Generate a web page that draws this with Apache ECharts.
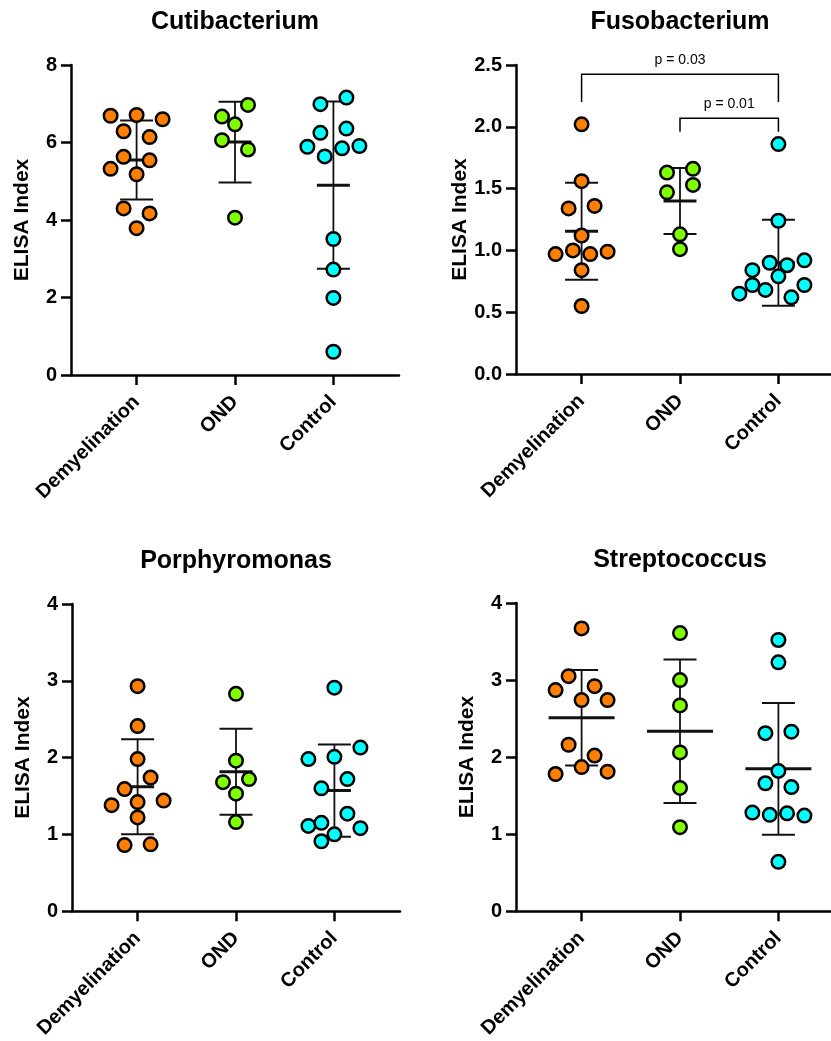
<!DOCTYPE html>
<html><head><meta charset="utf-8">
<script src="https://cdn.jsdelivr.net/npm/echarts@6/dist/echarts.min.js"></script>
<style>html,body{margin:0;padding:0;background:#fff}#c{width:831px;height:1041px}</style>
</head><body><div id="c"></div>
<script>
// ---------- data ----------
const categories = ['Demyelination', 'OND', 'Control'];
const panelTitles = ['Cutibacterium', 'Fusobacterium', 'Porphyromonas', 'Streptococcus'];
const yMaxes = [8, 2.5, 4, 4];
const yIntervals = [2, 0.5, 1, 1];
const yDecimals = [0, 1, 0, 0];

const cutiDemyelination = [6.69, 6.71, 6.60, 6.29, 6.14, 5.63, 5.54, 5.32, 5.18, 4.30, 4.17, 3.79];
const cutiOND = [6.67, 6.97, 6.47, 6.06, 5.82, 4.06];
const cutiControl = [6.99, 7.16, 6.25, 6.36, 5.89, 5.64, 5.85, 5.91, 3.51, 2.72, 1.99, 0.60];
const cutiMean = [5.55, 6.01, 4.90];
const cutiSD = [1.02, 1.04, 2.16];

const fusoDemyelination = [2.02, 1.56, 1.34, 1.36, 1.12, 0.97, 1.00, 0.97, 0.99, 0.84, 0.55];
const fusoOND = [1.63, 1.66, 1.47, 1.53, 1.13, 1.01];
const fusoControl = [1.86, 1.24, 0.84, 0.90, 0.88, 0.92, 0.72, 0.79, 0.72, 0.65, 0.68, 0.62];
const fusoMean = [1.155, 1.40, 0.90];
const fusoSD = [0.393, 0.267, 0.347];

const porphDemyelination = [2.93, 2.41, 1.98, 1.59, 1.74, 1.38, 1.42, 1.44, 1.22, 0.86, 0.87];
const porphOND = [2.83, 1.96, 1.68, 1.72, 1.53, 1.16];
const porphControl = [2.91, 1.98, 2.01, 2.13, 1.60, 1.72, 1.11, 1.15, 1.27, 0.91, 1.00, 1.08];
const porphMean = [1.62, 1.815, 1.57];
const porphSD = [0.62, 0.56, 0.60];

const strepDemyelination = [3.67, 3.05, 2.92, 2.87, 2.74, 2.74, 2.16, 2.02, 1.78, 1.87, 1.81];
const strepOND = [3.61, 3.00, 2.67, 2.06, 1.60, 1.09];
const strepControl = [3.52, 3.23, 2.31, 2.33, 1.82, 1.66, 1.61, 1.28, 1.25, 1.27, 1.24, 0.64];
const strepMean = [2.51, 2.335, 1.847];
const strepSD = [0.62, 0.93, 0.855];

// significance comparisons (Fusobacterium panel)
const fusoComparisons = [
  { from: 0, to: 2, label: 'p = 0.03', top: 2.425, leg: 2.2 },
  { from: 1, to: 2, label: 'p = 0.01', top: 2.07, leg: 1.96 }
];

// ---------- layout / style ----------
const FONT = '"Liberation Sans", Arial, Helvetica, sans-serif';
const groupColors = ['#FF8000', '#80FF00', '#00FFFF'];
const UNIT_PX = 98.4;          // pixels per category step
const X_MIN = -2 / 3;
const grids = [
  { left: 71, top: 65, width: 328, height: 310 },
  { left: 516, top: 65, width: 315, height: 309 },
  { left: 72, top: 604, width: 328, height: 309 },
  { left: 516, top: 603, width: 315, height: 309 }
];
const meanHalfWidths = [16.5, 16.5, 16.5, 33];

const panels = [
  { groups: [cutiDemyelination, cutiOND, cutiControl], mean: cutiMean, sd: cutiSD },
  { groups: [fusoDemyelination, fusoOND, fusoControl], mean: fusoMean, sd: fusoSD },
  { groups: [porphDemyelination, porphOND, porphControl], mean: porphMean, sd: porphSD },
  { groups: [strepDemyelination, strepOND, strepControl], mean: strepMean, sd: strepSD }
];

// Prism-like scatter layout: rows of near-equal values spread symmetrically,
// shifted sideways by half a slot when they would collide with earlier rows.
function swarm(values, g, pxX, pxY) {
  const D = 14, R = 11.8;
  const idx = values.map((v, i) => i).sort((a, b) => values[b] - values[a] || a - b);
  const rows = []; let cur = null;
  idx.forEach(i => {
    if (cur && (values[cur[0]] - values[i]) * pxY < R) cur.push(i);
    else { cur = [i]; rows.push(cur); }
  });
  const placed = []; const res = new Array(values.length);
  rows.forEach(row => {
    row.sort((a, b) => a - b);
    const n = row.length;
    const w = n === 1 ? 0 : (n === 2 ? 13 : Math.max(26, 13 * (n - 1) / 2));
    const base = row.map((_, k) => n === 1 ? 0 : -w + 2 * w * k / (n - 1));
    let best = 0, bestScore = Infinity;
    for (const s of [0, -13, 13, -26, 26]) {
      let pen = 0;
      row.forEach((i, k) => {
        const ox = base[k] + s;
        placed.forEach(p => {
          const dx = p.ox - ox, dy = (p.v - values[i]) * pxY;
          const d = Math.sqrt(dx * dx + dy * dy);
          if (d < D) pen += D - d;
        });
      });
      const score = pen + Math.abs(s) * 0.08;
      if (score < bestScore - 1e-9) { bestScore = score; best = s; }
    }
    row.forEach((i, k) => {
      const ox = base[k] + best;
      placed.push({ ox, v: values[i] });
      res[i] = [g + ox / pxX, values[i]];
    });
  });
  return res;
}

const axisLineStyle = { color: '#000', width: 2.5 };
const option = {
  animation: false,
  backgroundColor: '#fff',
  title: panelTitles.map((t, i) => ({
    text: t,
    left: grids[i].left + 164,
    top: grids[i].top - 55,
    textAlign: 'center',
    padding: 0,
    textStyle: { fontSize: 25, fontWeight: 'bold', color: '#000', fontFamily: FONT }
  })),
  grid: grids.map(g => ({ left: g.left, top: g.top, width: g.width, height: g.height, containLabel: false })),
  xAxis: grids.map((g, i) => ({
    gridIndex: i, type: 'value', min: X_MIN, max: X_MIN + g.width / UNIT_PX,
    splitLine: { show: false },
    axisLine: { show: true, onZero: false, lineStyle: axisLineStyle },
    axisTick: { show: true, customValues: [0, 1, 2], length: 10, lineStyle: axisLineStyle },
    axisLabel: {
      customValues: [0, 1, 2], rotate: 45, margin: 24,
      formatter: v => categories[Math.round(v)] || '',
      fontSize: 20, fontWeight: 'bold', color: '#000', fontFamily: FONT
    }
  })),
  yAxis: grids.map((g, i) => ({
    gridIndex: i, type: 'value', min: 0, max: yMaxes[i], interval: yIntervals[i],
    splitLine: { show: false },
    axisLine: { show: true, onZero: false, lineStyle: axisLineStyle },
    axisTick: { show: true, length: 10, lineStyle: axisLineStyle },
    axisLabel: {
      margin: 14, formatter: v => v.toFixed(yDecimals[i]),
      fontSize: 20, fontWeight: 'bold', color: '#000', fontFamily: FONT
    },
    name: 'ELISA Index', nameLocation: 'middle', nameGap: 38, nameRotate: 90,
    nameTextStyle: { fontSize: 21, fontWeight: 'bold', color: '#000', fontFamily: FONT }
  })),
  series: []
};

panels.forEach((p, i) => {
  const pxX = UNIT_PX;
  const pxY = grids[i].height / yMaxes[i];
  const mh = meanHalfWidths[i];
  // mean ± SD
  option.series.push({
    type: 'custom', xAxisIndex: i, yAxisIndex: i, z: 2, clip: false,
    data: p.mean.map((m, g) => [g, m, p.sd[g]]),
    encode: { x: 0, y: 1 },
    renderItem: (params, api) => {
      const g = api.value(0), m = api.value(1), s = api.value(2);
      const c = api.coord([g, m]), hi = api.coord([g, m + s]), lo = api.coord([g, m - s]);
      const st = (w) => ({ stroke: '#111', lineWidth: w });
      return {
        type: 'group', children: [
          { type: 'line', shape: { x1: c[0], y1: hi[1], x2: c[0], y2: lo[1] }, style: st(1.8) },
          { type: 'line', shape: { x1: c[0] - 16.5, y1: hi[1], x2: c[0] + 16.5, y2: hi[1] }, style: st(2) },
          { type: 'line', shape: { x1: c[0] - 16.5, y1: lo[1], x2: c[0] + 16.5, y2: lo[1] }, style: st(2) },
          { type: 'line', shape: { x1: c[0] - mh, y1: c[1], x2: c[0] + mh, y2: c[1] }, style: st(3) }
        ]
      };
    }
  });
  // points
  p.groups.forEach((vals, g) => {
    option.series.push({
      type: 'scatter', xAxisIndex: i, yAxisIndex: i, z: 3,
      name: categories[g],
      data: swarm(vals, g, pxX, pxY),
      symbol: 'circle', symbolSize: 13.5,
      itemStyle: { color: groupColors[g], borderColor: '#000', borderWidth: 2.5, opacity: 1 }
    });
  });
});

// significance brackets
option.series.push({
  type: 'custom', xAxisIndex: 1, yAxisIndex: 1, z: 4, clip: false,
  data: fusoComparisons.map(c => [c.from, c.to, c.top, c.leg]),
  encode: { x: [0, 1], y: [2, 3] },
  renderItem: (params, api) => {
    const f = api.value(0), t = api.value(1), top = api.value(2), leg = api.value(3);
    const a = api.coord([f, leg]), b = api.coord([f, top]), c = api.coord([t, top]), d = api.coord([t, leg]);
    return {
      type: 'group', children: [
        { type: 'polyline', shape: { points: [a, b, c, d] }, style: { stroke: '#000', lineWidth: 1.5, fill: null } },
        { type: 'text', x: (b[0] + c[0]) / 2, y: b[1] - 7,
          style: { text: fusoComparisons[params.dataIndex].label, align: 'center', verticalAlign: 'bottom',
                   fontSize: 14, fontFamily: FONT, fill: '#000' } }
      ]
    };
  }
});

const chart = echarts.init(document.getElementById('c'), null, { renderer: 'canvas' });
chart.setOption(option);
</script>
</body></html>
